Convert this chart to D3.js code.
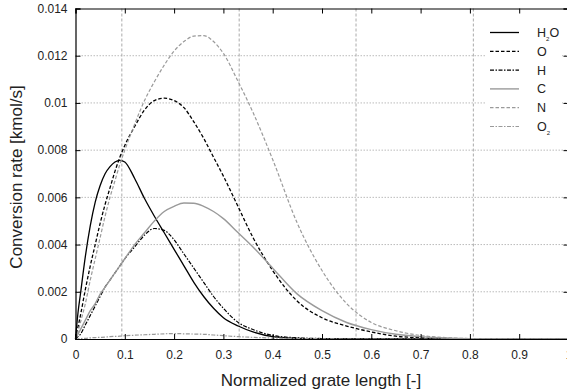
<!DOCTYPE html>
<html>
<head>
<meta charset="utf-8">
<script src="https://cdn.jsdelivr.net/npm/d3@7"></script>
<style>
body { margin: 0; background: #fff; }
svg { display: block; font-family: "Liberation Sans", Arial, Helvetica, sans-serif; }
</style>
</head>
<body>
<svg id="chart" width="567" height="392"></svg>
<script>
// normalized grate length samples
var xs = [0, 0.005, 0.01, 0.02, 0.03, 0.04, 0.05, 0.06, 0.07, 0.08, 0.09, 0.1, 0.12, 0.14, 0.16, 0.18, 0.2, 0.22, 0.24, 0.26, 0.28, 0.3, 0.33, 0.36, 0.4, 0.45, 0.5, 0.55, 0.6, 0.65, 0.7, 0.75, 0.8, 0.9, 1.0];

var h2o = [0, 0.0011, 0.0019, 0.0035, 0.0048, 0.0058, 0.0065, 0.0070, 0.0073, 0.0075, 0.00757, 0.0075, 0.0068, 0.00595, 0.0052, 0.0045, 0.0038, 0.0031, 0.0024, 0.0018, 0.0013, 0.0009, 0.00055, 0.0003, 0.0001, 0.00003, 0, 0, 0, 0, 0, 0, 0, 0, 0];
var o   = [0, 0.0005, 0.001, 0.0021, 0.0031, 0.004, 0.0049, 0.0057, 0.0064, 0.0071, 0.0077, 0.0082, 0.0090, 0.0097, 0.0101, 0.0102, 0.0101, 0.0098, 0.0092, 0.0085, 0.0077, 0.0069, 0.0056, 0.0043, 0.0029, 0.0016, 0.0009, 0.00055, 0.0003, 0.00012, 0.00005, 0.00001, 0, 0, 0];
var h   = [0, 0.0001, 0.0002, 0.0006, 0.0010, 0.0014, 0.0018, 0.0022, 0.0025, 0.0028, 0.0031, 0.0034, 0.0039, 0.0044, 0.00468, 0.0046, 0.0042, 0.0036, 0.0030, 0.0024, 0.0018, 0.0013, 0.0007, 0.0004, 0.00015, 0.00005, 0.00002, 0, 0, 0, 0, 0, 0, 0, 0];
var c   = [0, 0.0002, 0.0004, 0.0008, 0.0012, 0.0015, 0.0019, 0.0022, 0.0025, 0.0028, 0.0031, 0.0034, 0.0040, 0.0045, 0.0050, 0.0054, 0.00562, 0.00576, 0.00575, 0.00562, 0.0054, 0.0051, 0.0045, 0.0039, 0.0030, 0.0019, 0.0012, 0.0007, 0.0004, 0.0002, 0.0001, 0.00004, 0.00001, 0, 0];
var n   = [0, 0.0003, 0.0007, 0.0015, 0.0025, 0.0034, 0.0043, 0.0052, 0.006, 0.0067, 0.0074, 0.008, 0.0091, 0.0101, 0.0109, 0.0116, 0.0122, 0.0126, 0.01283, 0.01285, 0.0126, 0.0121, 0.0109, 0.0096, 0.0076, 0.0049, 0.0029, 0.0015, 0.0007, 0.00035, 0.00015, 0.00006, 0.00002, 0, 0];
var o2  = [0, 0.00001, 0.00002, 0.00003, 0.00005, 0.00006, 0.00007, 0.00008, 0.0001, 0.00011, 0.00012, 0.00014, 0.00016, 0.00018, 0.0002, 0.00022, 0.00023, 0.00022, 0.00021, 0.0002, 0.00017, 0.00014, 0.0001, 0.00007, 0.00004, 0.00002, 0.00001, 0, 0, 0, 0, 0, 0, 0, 0];

var seriesNames = ['H2O', 'O', 'H', 'C', 'N', 'O2'];
var zoneEdges = [0.094, 0.332, 0.569, 0.807];
var xTicks = [0, 0.1, 0.2, 0.3, 0.4, 0.5, 0.6, 0.7, 0.8, 0.9, 1];
var yTicks = [0, 0.002, 0.004, 0.006, 0.008, 0.01, 0.012, 0.014];

var series = [
	{name: seriesNames[0], values: h2o, color: '#000', dash: null, width: 1.3},
	{name: seriesNames[1], values: o, color: '#000', dash: '3.5,2', width: 1.3},
	{name: seriesNames[2], values: h, color: '#000', dash: '4,1.5,1.5,1.5', width: 1.2},
	{name: seriesNames[3], values: c, color: '#9a9a9a', dash: null, width: 1.4},
	{name: seriesNames[4], values: n, color: '#9a9a9a', dash: '3.5,2', width: 1.2},
	{name: seriesNames[5], values: o2, color: '#9a9a9a', dash: '4,1.5,1.5,1.5', width: 1.2}
];

var pLeft = 75.5, pTop = 8.5, pRight = 568.5, pBottom = 339;
var svg = d3.select('#chart');

var x = d3.scaleLinear().domain([0, 1]).range([pLeft, pRight]);
var y = d3.scaleLinear().domain([0, 0.014]).range([pBottom, pTop]);

var fmt = function(d) { return String(+d.toFixed(3)); };

// horizontal dotted grid
svg.append('g').selectAll('line')
	.data(yTicks.filter(function(d) { return d > 0 && d < 0.014; }))
	.enter().append('line')
	.attr('x1', pLeft).attr('x2', pRight)
	.attr('y1', function(d) { return y(d); })
	.attr('y2', function(d) { return y(d); })
	.attr('stroke', '#bbb').attr('stroke-width', 1)
	.attr('stroke-dasharray', '1.5,1.5');

// zone boundaries
svg.append('g').selectAll('line')
	.data(zoneEdges)
	.enter().append('line')
	.attr('x1', function(d) { return x(d); })
	.attr('x2', function(d) { return x(d); })
	.attr('y1', pTop).attr('y2', pBottom)
	.attr('stroke', '#aaa').attr('stroke-width', 1)
	.attr('stroke-dasharray', '3,2');

// curves
var line = d3.line()
	.x(function(d, i) { return x(xs[i]); })
	.y(function(d) { return y(d); })
	.curve(d3.curveMonotoneX);

svg.append('g').selectAll('path')
	.data(series)
	.enter().append('path')
	.attr('d', function(d) { return line(d.values); })
	.attr('fill', 'none')
	.attr('stroke', function(d) { return d.color; })
	.attr('stroke-width', function(d) { return d.width; })
	.attr('stroke-dasharray', function(d) { return d.dash; });

// axes, ticks point inward
svg.append('g')
	.attr('transform', 'translate(0,' + pBottom + ')')
	.call(d3.axisBottom(x).tickValues(xTicks).tickSize(-5).tickPadding(11).tickFormat(fmt));
svg.append('g')
	.attr('transform', 'translate(0,' + pTop + ')')
	.call(d3.axisTop(x).tickValues(xTicks).tickSize(-5).tickFormat(''));
svg.append('g')
	.attr('transform', 'translate(' + pLeft + ',0)')
	.call(d3.axisLeft(y).tickValues(yTicks).tickSize(-5).tickPadding(8).tickFormat(fmt));
svg.append('g')
	.attr('transform', 'translate(' + pRight + ',0)')
	.call(d3.axisRight(y).tickValues(yTicks).tickSize(-5).tickFormat(''));

svg.selectAll('.domain').attr('stroke', '#000').attr('stroke-width', 1.2);
svg.selectAll('.tick line').attr('stroke', '#000');
svg.selectAll('.tick text').attr('font-size', 12).attr('fill', '#222')
	.attr('font-family', '"Liberation Sans", Arial, sans-serif');

// axis titles
svg.append('text')
	.attr('x', 321).attr('y', 386)
	.attr('text-anchor', 'middle')
	.attr('font-size', 17).attr('fill', '#222')
	.text('Normalized grate length [-]');
svg.append('text')
	.attr('transform', 'translate(22,177) rotate(-90)')
	.attr('text-anchor', 'middle')
	.attr('font-size', 17).attr('fill', '#222')
	.text('Conversion rate [kmol/s]');

// legend
var lg = svg.append('g');
lg.append('rect').attr('x', 485).attr('y', 20).attr('width', 77).attr('height', 118).attr('fill', '#fff');
var rows = lg.selectAll('g.row').data(series).enter().append('g')
	.attr('transform', function(d, i) { return 'translate(0,' + (32.5 + i * 18.8) + ')'; });
rows.append('line')
	.attr('x1', 490).attr('x2', 519)
	.attr('stroke', function(d) { return d.color; })
	.attr('stroke-width', function(d) { return d.width; })
	.attr('stroke-dasharray', function(d) { return d.dash; });
var labels = rows.append('text')
	.attr('x', 537).attr('dy', '0.36em')
	.attr('font-size', 12.5).attr('fill', '#222');
labels.each(function(d) {
	var t = d3.select(this);
	var m = d.name.match(/^([A-Z]+?)(\d)(.*)$/);
	if (!m) { t.text(d.name); return; }
	t.append('tspan').text(m[1]);
	t.append('tspan').attr('font-size', 6).attr('dy', 4).text(m[2]);
	if (m[3]) t.append('tspan').attr('dy', -4).text(m[3]);
});
</script>
</body>
</html>
